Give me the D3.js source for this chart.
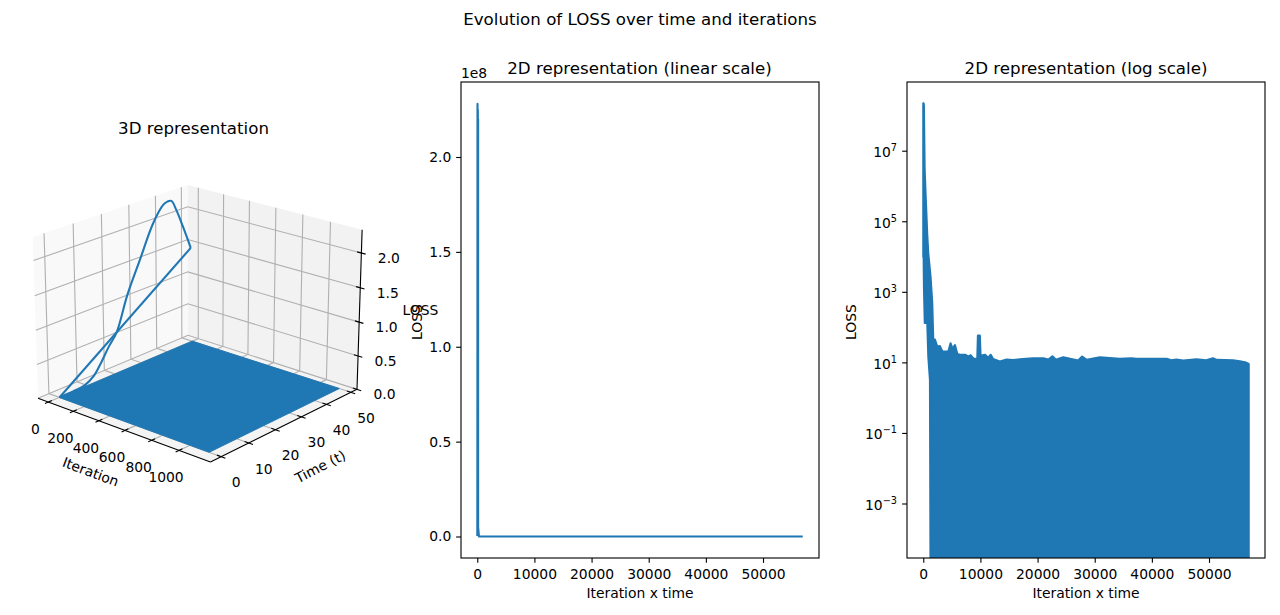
<!DOCTYPE html>
<html>
<head>
<meta charset="utf-8">
<script src="https://cdn.jsdelivr.net/npm/d3@7/dist/d3.min.js"></script>
<style>
html,body{margin:0;padding:0;background:#fff}
svg{display:block}
text{font-family:"DejaVu Sans",sans-serif;fill:#000}
</style>
</head>
<body>
<svg id="fig" width="1280" height="615"></svg>
<script>
// ---- data ----
const timeSteps  = [0, 5, 9, 12.5, 15, 18, 21, 25, 30, 35, 38.8, 40.5, 42, 44, 46.5, 49.5];
const firstLoss  = [0.002e8, 0.005e8, 0.02e8, 0.11e8, 0.25e8, 0.45e8, 0.62e8, 1.1e8, 1.57e8, 2.03e8, 2.25e8, 2.28e8, 2.27e8, 2.1e8, 1.82e8, 1.46e8];
const plateIter  = [1, 1139];
const plateTime  = [0, 50];
const flatX      = [51, 100, 101, 150, 151, 300, 1000, 56950];
const flatLoss   = [0.1e8, 2.25e8, 0.1e8, 2.2e8, 0.05e8, 500, 15, 9];

const upperX = [0, 60, 110, 240, 470, 700, 880, 1280, 1570, 1750, 2040, 2450, 2920, 3330, 3790, 4380, 4780, 5130, 5540, 5950, 6400, 7000, 7400, 7870, 8280, 8860, 9450, 9560, 9900, 10030, 10800, 11400, 11800, 12200, 13400, 14600, 15700, 16900, 19200, 21000, 21900, 22600, 23200, 24500, 25700, 26500, 27100, 27800, 28600, 30900, 33200, 34400, 36400, 37300, 42600, 43400, 44300, 45500, 47800, 49500, 50700, 51300, 54200, 55400, 56500, 56950];
const upperLoss = [2.28e8, 2.28e8, 2e8, 3e6, 3.4e5, 4.2e4, 1.26e4, 2700, 500, 45, 46, 29, 30, 21, 21, 21, 36, 25, 32, 18, 17, 17, 17, 15, 16.5, 13, 13, 60, 60, 16, 17, 14, 17, 13, 11, 12.5, 12, 12.7, 13.5, 13.5, 12.4, 15.4, 12.2, 14.5, 13, 12.2, 11.6, 15.1, 12.2, 14.5, 13.5, 13, 13.5, 13, 13, 11.9, 12.4, 11.6, 12.7, 11.9, 13.5, 12.2, 11.9, 11.1, 10.2, 9.4];
const lowerX = [0, 60, 120, 260, 700, 880, 1170, 1300, 56950];
const lowerLoss = [1e4, 1e4, 1400, 135, 135, 15, 3.3, 1e-7, 1e-7];

const xTicks2D   = [0, 10000, 20000, 30000, 40000, 50000];
const linTicks   = [0, 0.5e8, 1e8, 1.5e8, 2e8];
const logExps    = [-3, -1, 1, 3, 5, 7];
const iterTicks  = [0, 200, 400, 600, 800, 1000];
const timeTicks  = [0, 10, 20, 30, 40, 50];
const zTicks     = [0, 0.5e8, 1e8, 1.5e8, 2e8];

// ---- styles ----
const BLUE = "#1f77b4", LW = 2.08, THIN = 1.11, TICK = 4.86, FS = 13.89, TFS = 16.67;
const svg = d3.select("#fig");
const txt = (x, y, s, size = FS, anchor = "middle", rot = null) => {
  const t = svg.append("text").attr("x", x).attr("y", y).attr("font-size", size)
    .attr("text-anchor", anchor).text(s);
  if (rot !== null) t.attr("transform", `rotate(${rot} ${x} ${y})`);
  return t;
};

txt(640, 24.5, "Evolution of LOSS over time and iterations", TFS);

// ---- 2D panels ----
const axTop = 82, axBot = 558;
const linearAll = timeSteps.map((t, i) => [t, firstLoss[i]]).concat(flatX.map((x, i) => [x, flatLoss[i]]));

function panel2D(left, right, yScale, drawMarks) {
  const x = d3.scaleLinear().domain([0, 56950]).range([left + 16.27, right - 16.27]);
  const id = "clip" + left;
  svg.append("clipPath").attr("id", id).append("rect")
    .attr("x", left).attr("y", axTop).attr("width", right - left).attr("height", axBot - axTop);
  const g = svg.append("g").attr("clip-path", `url(#${id})`);
  drawMarks(g, x);
  svg.append("rect").attr("x", left).attr("y", axTop).attr("width", right - left).attr("height", axBot - axTop)
    .attr("fill", "none").attr("stroke", "#000").attr("stroke-width", THIN);
  const ax = svg.append("g").attr("transform", `translate(0,${axBot})`)
    .call(d3.axisBottom(x).tickValues(xTicks2D).tickFormat(d3.format("d")).tickSize(TICK).tickSizeOuter(0).tickPadding(6));
  ax.select(".domain").remove();
  ax.selectAll("line").attr("stroke", "#000").attr("stroke-width", THIN);
  ax.selectAll("text").attr("font-size", FS).attr("font-family", '"DejaVu Sans"').attr("fill", "#000");
  txt((left + right) / 2, 598, "Iteration x time");
  return x;
}

// linear
const yLin = d3.scaleLinear().domain([0, 2e8]).range([536.5, 157]);
panel2D(461, 819, yLin, (g, x) => {
  g.append("path").attr("d", d3.line().x(d => x(d[0])).y(d => yLin(d[1]))(linearAll))
    .attr("fill", "none").attr("stroke", BLUE).attr("stroke-width", LW).attr("stroke-linejoin", "round");
});
const axL = svg.append("g").attr("transform", "translate(461,0)")
  .call(d3.axisLeft(yLin).tickValues(linTicks).tickFormat(d => (d / 1e8).toFixed(1)).tickSize(TICK).tickSizeOuter(0).tickPadding(4.86));
axL.select(".domain").remove();
axL.selectAll("line").attr("stroke", "#000").attr("stroke-width", THIN);
axL.selectAll("text").attr("font-size", FS).attr("font-family", '"DejaVu Sans"').attr("fill", "#000");
txt(461, 78, "1e8", FS, "start");
txt(421.5, 322, "LOSS", FS, "middle", -90);
txt(639.5, 74, "2D representation (linear scale)", TFS);

// log
const yLog = d3.scaleLog().domain([1e-3, 1e7]).range([504, 151.2]);
panel2D(907, 1265, yLog, (g, x) => {
  const outline = upperX.map((d, i) => [x(d), yLog(upperLoss[i])])
    .concat(lowerX.map((d, i) => [x(d), yLog(lowerLoss[i])]).reverse());
  g.append("path").attr("d", d3.line()(outline) + "Z").attr("fill", BLUE).attr("stroke", BLUE).attr("stroke-width", LW).attr("stroke-linejoin", "round");
});
logExps.forEach(e => {
  const y = yLog(Math.pow(10, e));
  svg.append("line").attr("x1", 907 - TICK).attr("x2", 907).attr("y1", y).attr("y2", y).attr("stroke", "#000").attr("stroke-width", THIN);
  const t = txt(897, y + 6, "", FS, "end");
  t.append("tspan").text("10");
  t.append("tspan").attr("font-size", FS * 0.7).attr("dy", -6).text(e < 0 ? "\u2212" + (-e) : e);
});
txt(856, 322, "LOSS", FS, "middle", -90);
txt(1086, 74, "2D representation (log scale)", TFS);

// ---- 3D panel ----
const ELEV = 21 * Math.PI / 180, AZIM = -49 * Math.PI / 180, DIST = 10;
const boxX = 1.19, boxY = 1.19, boxZ = 0.893;
const sx3 = d3.scaleLinear().domain([-85, 1224]).range([0, boxX]);
const sy3 = d3.scaleLinear().domain([-3.8, 52.5]).range([0, boxY]);
const sz3 = d3.scaleLinear().domain([0, 2.33e8]).range([0, boxZ]);
const n = [Math.cos(ELEV) * Math.cos(AZIM), Math.cos(ELEV) * Math.sin(AZIM), Math.sin(ELEV)];
const u = [-Math.sin(AZIM), Math.cos(AZIM), 0];
const v = [n[1] * u[2] - n[2] * u[1], n[2] * u[0] - n[0] * u[2], n[0] * u[1] - n[1] * u[0]];
const dot = (a, b) => a[0] * b[0] + a[1] * b[1] + a[2] * b[2];
function view(px, py, pz) {
  const w = [px - boxX / 2, py - boxY / 2, pz - boxZ / 2];
  const f = DIST / (DIST - dot(w, n));
  return [dot(w, u) * f, dot(w, v) * f];
}
const [X0, X1] = sx3.domain(), [Y0, Y1] = sy3.domain(), [Z0, Z1] = sz3.domain();
const rawV = (a, b, c) => view(sx3(a), sy3(b), sz3(c));
const pxX = d3.scaleLinear().domain([rawV(X0, Y0, Z0)[0], rawV(X1, Y1, Z0)[0]]).range([38, 357]);
const pxY = d3.scaleLinear().domain([rawV(X1, Y0, Z0)[1], rawV(X0, Y1, Z1)[1]]).range([462, 185]);
const P = (a, b, c) => { const r = rawV(a, b, c); return [pxX(r[0]), pxY(r[1])]; };
const line3 = d3.line();
const poly = (pts, fill) => svg.append("path").attr("d", line3(pts) + "Z").attr("fill", fill).attr("stroke", "none");
const seg = (pts, stroke = "#b0b0b0", w = THIN) => svg.append("path").attr("d", line3(pts)).attr("fill", "none").attr("stroke", stroke).attr("stroke-width", w);

poly([P(X0,Y0,Z0), P(X0,Y1,Z0), P(X0,Y1,Z1), P(X0,Y0,Z1)], "#f9f9f9");
poly([P(X0,Y1,Z0), P(X1,Y1,Z0), P(X1,Y1,Z1), P(X0,Y1,Z1)], "#f2f2f2");
poly([P(X0,Y0,Z0), P(X1,Y0,Z0), P(X1,Y1,Z0), P(X0,Y1,Z0)], "#f4f4f4");

iterTicks.forEach(d => seg([P(d,Y0,Z0), P(d,Y1,Z0), P(d,Y1,Z1)]));
timeTicks.forEach(d => seg([P(X1,d,Z0), P(X0,d,Z0), P(X0,d,Z1)]));
zTicks.forEach(d => seg([P(X0,Y0,d), P(X0,Y1,d), P(X1,Y1,d)]));

// curve at iteration 0, then the jump back to the next iteration
const curvePts = timeSteps.map((t, i) => P(0, t, firstLoss[i]));
svg.append("path").attr("d", d3.line().curve(d3.curveCatmullRom)(curvePts)).attr("fill", "none").attr("stroke", BLUE).attr("stroke-width", LW).attr("stroke-linejoin", "round");
svg.append("path").attr("d", line3([curvePts[curvePts.length - 1], P(plateIter[0], plateTime[0], 0)])).attr("fill", "none").attr("stroke", BLUE).attr("stroke-width", LW);
svg.append("path").attr("d", line3([
    P(plateIter[0], plateTime[0], 0), P(plateIter[1], plateTime[0], 0),
    P(plateIter[1], plateTime[1], 0), P(plateIter[0], plateTime[1], 0)]) + "Z")
  .attr("fill", BLUE).attr("stroke", BLUE).attr("stroke-width", 1).attr("stroke-linejoin", "round");

// axis lines
seg([P(X0,Y0,Z0), P(X1,Y0,Z0)], "#000");
seg([P(X1,Y0,Z0), P(X1,Y1,Z0)], "#000");
seg([P(X1,Y1,Z0), P(X1,Y1,Z1)], "#000");

// ticks and labels
iterTicks.forEach(d => {
  seg([P(d,Y0+1.2,Z0), P(d,Y0-1.2,Z0)], "#000");
  const p = P(d,Y0,Z0);
  txt(p[0] - 13, p[1] + 32, d);
});
timeTicks.forEach(d => {
  seg([P(X1-30,d,Z0), P(X1+30,d,Z0)], "#000");
  const p = P(X1,d,Z0);
  txt(p[0] + 15, p[1] + 30.5, d);
});
zTicks.forEach(d => {
  seg([P(X1-30,Y1,d), P(X1+30,Y1,d)], "#000");
  const p = P(X1,Y1,d);
  txt(p[0] + 27.5, p[1] + 9.8, (d / 1e8).toFixed(1));
});
txt(89, 476.4, "Iteration", FS, "middle", 20.5);
txt(322.5, 471, "Time (t)", FS, "middle", -27);
txt(420.5, 314.5, "LOSS");
txt(193.5, 134, "3D representation", TFS);
</script>
</body>
</html>
